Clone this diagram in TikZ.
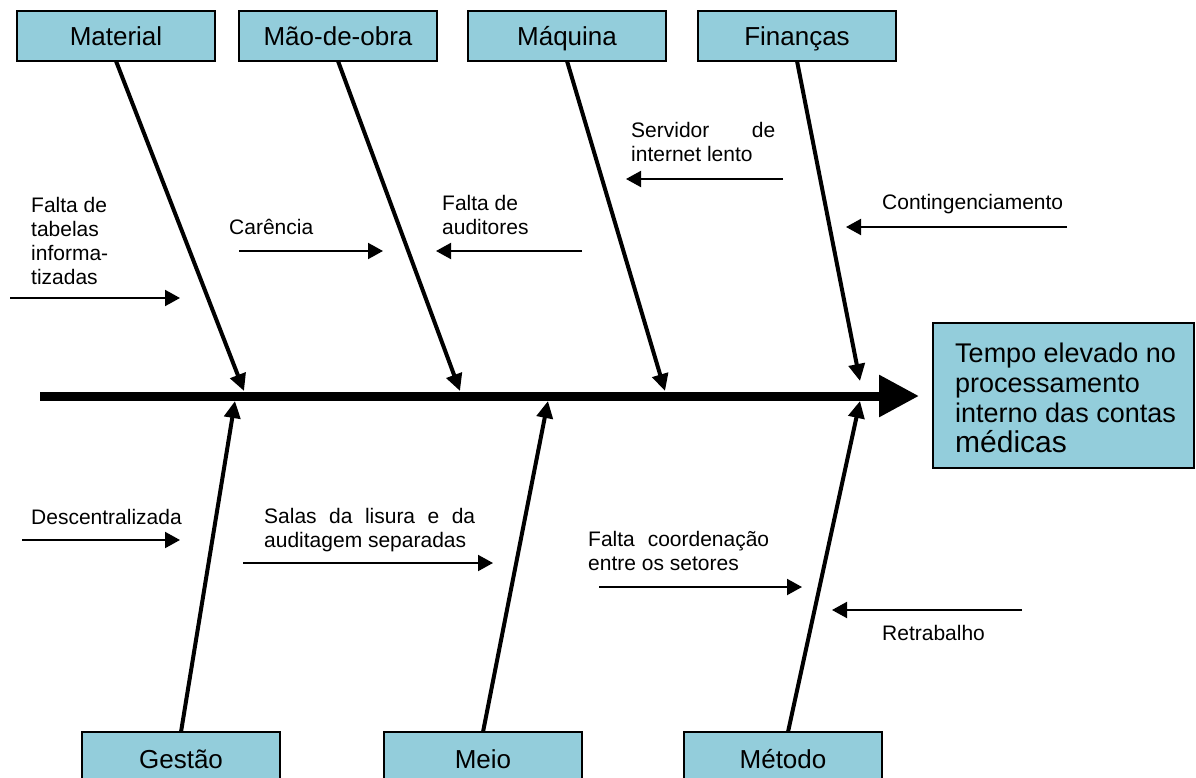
\documentclass[tikz,border=0pt]{standalone}
\usepackage{fontspec}
\setmainfont{Liberation Sans}
\usetikzlibrary{arrows.meta,calc}
\definecolor{boxblue}{RGB}{147,205,219}

\begin{document}
\begin{tikzpicture}[x=1pt,y=-1pt,
  catbox/.style={draw=black, line width=2.5pt, fill=boxblue, minimum width=198pt,
    minimum height=50pt, inner sep=0pt, outer sep=0pt, anchor=north west,
    text height=25pt, text depth=5pt, font=\fontsize{26}{30}\selectfont},
  effbox/.style={draw=black, line width=2.5pt, fill=boxblue, minimum width=261pt,
    minimum height=145pt, inner sep=0pt, outer sep=0pt, anchor=north west},
  efftext/.style={inner sep=0pt, anchor=base west, align=left,
    font=\fontsize{27}{30}\selectfont},
  lbl/.style={inner sep=0pt, anchor=base west, align=left,
    font=\fontsize{21}{24}\selectfont},
  branch/.style={line width=4pt, -{Triangle[length=17pt,width=16pt]}},
  cause/.style={line width=2pt, -{Triangle[length=15pt,width=16pt]}},
  spine/.style={line width=9pt, -{Triangle[length=40pt,width=40pt]}}
]
\useasboundingbox (0,0) rectangle (1196,778);
\clip (0,0) rectangle (1196,778);

% category boxes
\node[catbox] (mat) at (17,11)  {Material};
\node[catbox] (mao) at (239,11) {Mão-de-obra};
\node[catbox] (maq) at (468,11) {Máquina};
\node[catbox] (fin) at (698,11) {Finanças};
\node[catbox, minimum height=52pt] (ges) at (82,732)  {Gestão};
\node[catbox, minimum height=52pt] (mei) at (384,732) {Meio};
\node[catbox, minimum height=52pt] (met) at (684,732) {Método};

% effect (multi-line nodes are anchored at the baseline of their last line)
\node[effbox] (eff) at (933,323) {};
\node[efftext] (efft) at (955,452) {Tempo elevado no\\processamento\\interno das contas\\{\fontsize{30}{30}\selectfont médicas}};

% spine
\coordinate (sp0) at (40,396);
\coordinate (sp1) at (919,396);
\draw[spine] (sp0) -- (sp1);

% branch tips on the spine
\coordinate (tmat) at (244,391);
\coordinate (tmao) at (460,391);
\coordinate (tmaq) at (665,391);
\coordinate (tfin) at (860,381);
\coordinate (tges) at (235,401);
\coordinate (tmei) at (548,401);
\coordinate (tmet) at (860,401);

\draw[branch] (mat.south) -- (tmat);
\draw[branch] (mao.south) -- (tmao);
\draw[branch] (maq.south) -- (tmaq);
\draw[branch] (fin.south) -- (tfin);
\draw[branch] (ges.north) -- (tges);
\draw[branch] (mei.north) -- (tmei);
\draw[branch] ([xshift=5pt]met.north) -- (tmet);

% causes
\node[lbl] (c1) at (31,284) {Falta de\\tabelas\\informa-\\tizadas};
\node[lbl] (c2) at (229,234) {Carência};
\node[lbl] (c3) at (442,234) {Falta de\\auditores};
\node[lbl] (c4) at (631,162) {\makebox[144pt][s]{Servidor de}\\internet lento};
\node[lbl] (c5) at (882,210) {Contingenciamento};
\node[lbl] (c6) at (31,524) {Descentralizada};
\node[lbl] (c7) at (264,547) {\makebox[211pt][s]{Salas da lisura e da}\\auditagem separadas};
\node[lbl] (c8) at (588,570) {\makebox[181pt][s]{Falta coordenação}\\entre os setores};
\node[lbl] (c9) at (882,640) {Retrabalho};

% cause arrows
\coordinate (a1s) at (10,298);   \coordinate (a1e) at (180,298);
\coordinate (a2s) at (239,251);  \coordinate (a2e) at (383,251);
\coordinate (a3s) at (582,251);  \coordinate (a3e) at (436,251);
\coordinate (a4s) at (783,179);  \coordinate (a4e) at (626,179);
\coordinate (a5s) at (1067,227); \coordinate (a5e) at (846,227);
\coordinate (a6s) at (22,540);   \coordinate (a6e) at (180,540);
\coordinate (a7s) at (243,563);  \coordinate (a7e) at (493,563);
\coordinate (a8s) at (599,587);  \coordinate (a8e) at (802,587);
\coordinate (a9s) at (1022,610); \coordinate (a9e) at (832,610);
\foreach \i in {1,...,9} {\draw[cause] (a\i s) -- (a\i e);}
\end{tikzpicture}
\end{document}
